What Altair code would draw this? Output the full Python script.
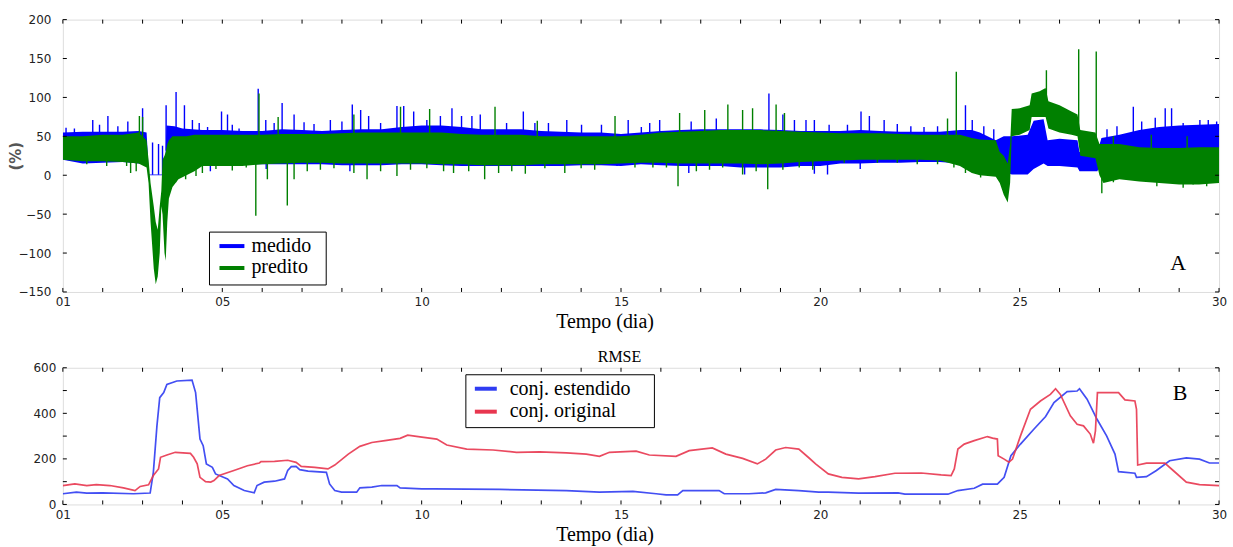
import altair as alt
import numpy as np
import pandas as pd

# ---------------- Panel A: medido x predito (%) ----------------
# envelope of each noisy series: (dia, minimo, maximo)
medido_band = [
    (1.0, 20, 55), (1.5, 15, 56), (2.0, 16, 56), (2.5, 17, 56), (2.9, 15, 57),
    (3.1, 15, 55), (3.16, 0, 1), (3.56, 0, 1), (3.6, 20, 64), (3.8, 20, 63),
    (4.0, 18, 60), (4.5, 15, 58), (5.0, 14, 58), (5.5, 14, 57), (6.0, 14, 57),
    (6.5, 14, 59), (7.0, 14, 58), (7.5, 14, 57), (8.0, 13, 58), (8.5, 13, 59),
    (9.0, 13, 59), (9.5, 14, 62), (10.0, 14, 64), (10.5, 13, 64), (11.0, 12, 62),
    (11.5, 12, 59), (12.0, 12, 59), (12.5, 12, 59), (13.0, 12, 57), (13.5, 12, 56),
    (14.0, 13, 55), (14.5, 13, 55), (15.0, 12, 53), (15.5, 14, 55), (16.0, 13, 57),
    (16.5, 12, 58), (17.0, 12, 59), (17.5, 12, 59), (18.0, 10, 59), (18.5, 10, 59),
    (19.0, 10, 58), (19.5, 12, 57), (20.0, 12, 57), (20.5, 15, 57), (21.0, 15, 58),
    (21.5, 16, 57), (22.0, 16, 56), (22.5, 17, 56), (23.0, 17, 56), (23.5, 15, 58),
    (23.8, 10, 58), (24.0, 12, 55), (24.4, 12, 45), (24.6, 5, 50), (24.8, 1, 50),
    (25.2, 1, 52), (25.35, 8, 70), (25.6, 15, 72), (25.7, 12, 45), (26.0, 12, 47),
    (26.45, 10, 45), (26.5, 5, 30), (26.95, 5, 30), (27.05, 18, 48), (27.5, 20, 52),
    (28.0, 20, 58), (28.5, 22, 62), (29.0, 22, 64), (29.5, 22, 65), (30.0, 22, 66),
]
predito_band = [
    (1.0, 20, 50), (1.5, 18, 50), (2.0, 18, 52), (2.5, 17, 52), (2.9, 15, 55),
    (3.1, 10, 45), (3.15, -10, 20), (3.2, -60, -10), (3.28, -120, -40),
    (3.33, -140, -60), (3.38, -130, -70), (3.43, -100, -40), (3.47, -40, -20),
    (3.5, -50, 20), (3.55, -100, 25), (3.58, -110, 30), (3.62, -60, 40),
    (3.66, -30, 45), (3.75, -15, 50), (3.9, -5, 50), (4.1, 0, 50), (4.3, 5, 52),
    (4.5, 12, 52), (5.0, 12, 52), (5.5, 12, 52), (6.0, 14, 52), (6.5, 15, 53),
    (7.0, 16, 53), (7.5, 16, 53), (8.0, 15, 54), (8.5, 15, 55), (9.0, 15, 55),
    (9.5, 15, 55), (10.0, 15, 55), (10.5, 14, 55), (11.0, 14, 53), (11.5, 13, 52),
    (12.0, 13, 52), (12.5, 13, 52), (13.0, 14, 50), (13.5, 14, 50), (14.0, 14, 50),
    (14.5, 14, 50), (15.0, 15, 50), (15.5, 16, 52), (16.0, 16, 55), (16.5, 15, 56),
    (17.0, 15, 57), (17.5, 15, 58), (18.0, 15, 58), (18.5, 14, 58), (19.0, 15, 57),
    (19.5, 17, 56), (20.0, 18, 55), (20.5, 19, 54), (21.0, 20, 54), (21.5, 20, 54),
    (22.0, 20, 53), (22.5, 20, 52), (23.0, 19, 52), (23.5, 12, 52), (23.8, 3, 48),
    (24.0, 0, 46), (24.4, -2, 45), (24.5, -10, 30), (24.6, -25, 25), (24.7, -35, 15),
    (24.76, -10, 40), (24.8, 50, 85), (25.0, 52, 86), (25.25, 58, 90),
    (25.3, 75, 105), (25.5, 75, 108), (25.65, 75, 112), (25.72, 60, 95),
    (26.0, 55, 90), (26.3, 52, 82), (26.45, 50, 78), (26.52, 25, 58),
    (26.9, 22, 55), (27.0, 0, 40), (27.1, -10, 40), (27.5, -5, 40), (28.0, -8, 36),
    (28.5, -10, 35), (29.0, -12, 35), (29.5, -12, 36), (30.0, -10, 36),
]
# isolated peaks of each series: (dia, valor)
medido_picos = [
    (1.08, 61), (1.29, 60), (1.75, 71), (1.92, 65), (2.13, 76), (2.38, 63), (2.63, 69),
    (3.0, 86), (3.25, 42), (3.4, 40), (3.5, 38), (3.59, 90), (3.84, 107), (4.05, 90),
    (4.25, 71), (4.42, 67), (4.63, 62), (4.98, 82), (5.13, 78), (5.25, 65), (5.42, 60),
    (5.9, 111), (6.09, 71), (6.3, 67), (6.5, 93), (6.8, 78), (7.05, 68), (7.3, 66),
    (7.71, 71), (8.0, 69), (8.26, 91), (8.47, 84), (8.67, 76), (8.97, 67), (9.38, 89),
    (9.55, 89), (9.8, 82), (10.13, 71), (10.47, 76), (10.76, 86), (11.0, 76),
    (11.26, 76), (11.47, 78), (12.13, 67), (12.55, 82), (12.84, 67), (13.18, 67),
    (13.64, 71), (14.01, 65), (14.51, 65), (15.18, 71), (15.51, 62), (15.72, 67),
    (15.97, 71), (16.76, 69), (17.39, 73), (18.71, 105), (19.06, 78), (19.35, 71),
    (19.64, 71), (19.85, 71), (20.22, 65), (20.68, 65), (21.02, 82), (21.23, 76),
    (21.6, 71), (21.93, 66), (22.27, 63), (22.6, 62), (22.94, 63), (23.64, 90),
    (23.81, 71), (24.1, 63), (24.35, 59), (27.19, 59), (27.44, 63), (27.85, 88),
    (28.06, 69), (28.4, 74), (28.65, 86), (28.81, 86), (29.1, 67), (29.52, 71),
    (29.73, 71), (29.94, 69),
    (4.7, 5), (6.1, 8), (8.2, 5), (16.7, 3), (18.1, 1), (19.85, 2), (21.0, 8),
    (14.9, 12), (20.18, 1),
]
predito_picos = [
    (2.92, 76), (3.0, 75), (5.92, 105), (6.4, 75), (8.3, 78), (9.47, 88), (10.2, 85),
    (11.84, 88), (12.9, 70), (14.85, 76), (16.47, 80), (17.1, 84), (17.68, 91),
    (18.05, 84), (18.3, 86), (18.89, 91), (19.1, 80), (23.19, 73), (23.41, 133),
    (25.67, 135), (26.48, 162), (26.92, 159), (27.35, 50), (28.3, 52), (29.2, 50),
    (1.6, 14), (2.1, 12), (2.6, 12), (2.7, 3), (2.84, 5), (3.83, -9), (4.08, -5),
    (4.34, -1), (4.5, 3), (4.84, 8), (5.25, 6), (5.6, 10), (5.84, -52), (6.13, -5),
    (6.63, -39), (6.8, -5), (7.13, 5), (7.46, 7), (7.8, 9), (8.3, 3), (8.63, -5),
    (8.97, 5), (9.38, -1), (9.72, 7), (10.13, 9), (10.55, 5), (10.8, 3), (11.18, 5),
    (11.58, -5), (11.93, 3), (12.26, 5), (12.6, 2), (13.09, 9), (13.59, 3), (14.0, 9),
    (14.34, 7), (15.35, 10), (15.8, 10), (16.14, 10), (16.43, -14), (16.89, 5),
    (17.22, 7), (17.55, 10), (18.05, 1), (18.39, 5), (18.68, -18), (19.06, 7),
    (19.47, 10), (19.81, 7), (20.6, 16), (21.43, 16), (21.93, 16), (22.43, 14),
    (22.94, 14), (23.35, 10), (23.64, 3), (24.02, -3), (24.23, -1), (27.06, -23),
    (27.35, -9), (27.69, -5), (28.1, -7), (28.44, -14), (28.69, -9), (29.1, -16),
    (29.35, -12), (29.69, -14), (29.94, -7),
]

# ---------------- Panel B: RMSE ----------------
rmse_estendido = [
    (1.0, 47), (1.34, 54), (1.6, 50), (2.0, 51), (2.77, 47), (3.19, 50), (3.27, 141),
    (3.36, 345), (3.43, 469), (3.53, 491), (3.61, 527), (3.86, 542), (4.24, 546),
    (4.33, 491), (4.44, 287), (4.52, 258), (4.6, 178), (4.75, 163), (4.83, 134),
    (5.13, 112), (5.29, 83), (5.55, 61), (5.8, 51), (5.87, 83), (6.05, 98),
    (6.31, 102), (6.56, 112), (6.64, 149), (6.73, 166), (6.85, 167), (6.94, 153),
    (7.15, 146), (7.61, 141), (7.69, 90), (7.82, 61), (7.99, 54), (8.37, 54),
    (8.45, 73), (8.75, 76), (9.0, 83), (9.38, 83), (9.46, 73), (10.0, 68), (10.3, 68),
    (11.96, 66), (13.63, 61), (14.46, 54), (15.3, 57), (15.88, 47), (16.13, 42),
    (16.42, 42), (16.55, 61), (17.46, 61), (17.59, 47), (18.21, 47), (18.63, 51),
    (18.88, 66), (19.46, 61), (19.96, 54), (20.2, 54), (20.96, 50), (21.95, 51),
    (22.12, 45), (23.2, 45), (23.45, 61), (23.86, 71), (24.07, 89), (24.44, 89),
    (24.61, 119), (24.78, 214), (25.02, 265), (25.36, 331), (25.65, 386), (25.86, 447),
    (26.19, 495), (26.44, 498), (26.5, 508), (26.69, 462), (26.94, 374), (27.18, 301),
    (27.39, 221), (27.48, 144), (27.89, 137), (27.93, 119), (28.18, 122), (28.43, 149),
    (28.76, 192), (29.18, 204), (29.51, 199), (29.76, 182), (30.0, 182),
]
rmse_original = [
    (1.0, 83), (1.3, 90), (1.6, 83), (1.84, 87), (2.18, 83), (2.52, 73), (2.81, 61),
    (2.94, 79), (3.15, 86), (3.27, 127), (3.4, 156), (3.45, 207), (3.61, 217),
    (3.82, 229), (4.2, 224), (4.28, 207), (4.37, 178), (4.44, 119), (4.58, 100),
    (4.71, 98), (4.79, 105), (4.92, 127), (5.29, 149), (5.63, 170), (5.93, 182),
    (5.97, 188), (6.31, 189), (6.64, 194), (6.85, 185), (6.98, 167), (7.32, 163),
    (7.65, 156), (7.82, 173), (8.16, 221), (8.45, 255), (8.75, 272), (9.08, 280),
    (9.46, 290), (9.65, 304), (9.96, 297), (10.38, 287), (10.63, 261), (11.13, 243),
    (11.79, 239), (12.38, 229), (12.96, 231), (13.63, 226), (14.13, 221), (14.46, 211),
    (14.71, 229), (15.38, 234), (15.71, 217), (16.38, 211), (16.71, 236), (17.29, 248),
    (17.63, 221), (18.05, 202), (18.42, 178), (18.63, 199), (18.88, 239), (19.13, 250),
    (19.46, 243), (19.71, 205), (19.88, 178), (20.2, 134), (20.54, 119), (20.96, 112),
    (21.37, 122), (21.87, 137), (22.53, 138), (23.03, 130), (23.28, 127), (23.36, 156),
    (23.45, 243), (23.61, 265), (23.86, 280), (24.19, 298), (24.32, 291), (24.44, 287),
    (24.46, 214), (24.61, 199), (24.73, 185), (24.82, 199), (25.02, 301), (25.27, 418),
    (25.52, 454), (25.77, 483), (25.9, 508), (26.02, 483), (26.27, 389), (26.44, 352),
    (26.6, 345), (26.77, 309), (26.85, 269), (26.9, 323), (26.95, 491), (27.48, 491),
    (27.64, 459), (27.89, 454), (27.93, 418), (27.96, 173), (28.18, 181), (28.64, 181),
    (28.85, 149), (29.18, 98), (29.51, 87), (30.0, 83),
]

x_labels = [1, 5, 10, 15, 20, 25, 30]
x_ticks = list(range(1, 31))
ya_ticks = [-150, -100, -50, 0, 50, 100, 150, 200]
yb_labels = [0, 200, 400, 600]
yb_ticks = [0, 100, 200, 300, 400, 500, 600]

BLUE, GREEN = "#0000ff", "#008000"
RMSE_BLUE, RMSE_RED = "#2f3cf2", "#e8364f"
SERIF = "Liberation Serif"
SANS = "DejaVu Sans"
W, HA, HB = 1159, 273, 137


def band_frame(band):
    return pd.DataFrame(band, columns=["dia", "lo", "hi"])


def peak_frame(peaks, band):
    b = np.array(band, dtype=float)
    d = pd.DataFrame(peaks, columns=["dia", "v"])
    d["base"] = np.interp(d["dia"], b[:, 0], (b[:, 1] + b[:, 2]) / 2)
    return d


one = pd.DataFrame({"k": [0]})
xs = alt.Scale(domain=[1, 30], nice=False, zero=False)


def x_axis():
    return alt.Axis(values=x_labels, labelExpr="datum.value < 10 ? '0' + datum.value : '' + datum.value",
                    ticks=False, domain=False, grid=False, labelFont=SANS, labelFontSize=12,
                    labelColor="#222", labelPadding=5, labelFlush=False, labelOverlap=False,
                    title="Tempo (dia)", titleFont=SERIF,
                    titleFontSize=20, titleFontWeight="normal", titleColor="#000",
                    titleX=543, titleY=36, titleBaseline="alphabetic", titleAlign="center")


def X(field):
    return alt.X(f"{field}:Q", scale=xs, axis=x_axis())


# ---- panel A ----
ysA = alt.Scale(domain=[-150, 200], nice=False, zero=False)
y_axis_a = alt.Axis(values=ya_ticks, ticks=False, domain=False, grid=False, labelFont=SANS,
                    labelFontSize=12, labelColor="#222", labelPadding=12, labelFlush=False,
                    labelOverlap=False, title="(%)",
                    titleFont=SANS, titleFontSize=15, titleFontWeight="bold", titleColor="#555",
                    titleAngle=270, titleX=-47, titleY=HA / 2, titleAlign="center",
                    titleBaseline="middle")


def YA(field):
    return alt.Y(f"{field}:Q", scale=ysA, axis=y_axis_a)


def band_layer(band, color):
    return alt.Chart(band_frame(band)).mark_area(color=color, clip=True, opacity=1).encode(
        x=X("dia"), y=YA("lo"), y2="hi")


def peak_layer(peaks, band, color):
    return alt.Chart(peak_frame(peaks, band)).mark_rule(color=color, strokeWidth=1.4, clip=True).encode(
        x=X("dia"), y=YA("v"), y2="base")


def frame_ticks(yvals, h, Y):
    xt = pd.DataFrame({"dia": x_ticks})
    yt = pd.DataFrame({"v": yvals})
    bot = alt.Chart(xt).mark_rule(color="#000").encode(x=X("dia"), y=alt.value(h), y2=alt.value(h - 4))
    top = alt.Chart(xt).mark_rule(color="#000").encode(x=X("dia"), y=alt.value(0), y2=alt.value(4))
    left = alt.Chart(yt).mark_rule(color="#000").encode(y=Y("v"), x=alt.value(0), x2=alt.value(4))
    right = alt.Chart(yt).mark_rule(color="#000").encode(y=Y("v"), x=alt.value(W - 4), x2=alt.value(W))
    return [bot, top, left, right]


def legend(box, entries):
    x0, x1, y0, y1 = box
    parts = [alt.Chart(one).mark_rect(fill="#fff", stroke="#000", strokeWidth=1).encode(
        x=alt.value(x0), x2=alt.value(x1), y=alt.value(y0), y2=alt.value(y1))]
    for label, color, lx0, lx1, ly, tx, ty in entries:
        parts.append(alt.Chart(one).mark_rule(color=color, strokeWidth=4).encode(
            x=alt.value(lx0), x2=alt.value(lx1), y=alt.value(ly)))
        parts.append(alt.Chart(pd.DataFrame({"t": [label]})).mark_text(
            font=SERIF, fontSize=20, align="left", baseline="alphabetic", color="#000").encode(
            x=alt.value(tx), y=alt.value(ty), text="t:N"))
    return parts


def tag(text, x, y, size=22):
    return alt.Chart(pd.DataFrame({"t": [text]})).mark_text(
        font=SERIF, fontSize=size, align="center", baseline="alphabetic", color="#000").encode(
        x=alt.value(x), y=alt.value(y), text="t:N")


panel_a = alt.layer(
    band_layer(medido_band, BLUE),
    peak_layer(medido_picos, medido_band, BLUE),
    band_layer(predito_band, GREEN),
    peak_layer(predito_picos, predito_band, GREEN),
    *frame_ticks(ya_ticks, HA, YA),
    *legend((147, 264, 213, 266), [
        ("medido", BLUE, 157, 182, 227, 189, 233),
        ("predito", GREEN, 157, 182, 249, 189, 254),
    ]),
    tag("A", 1118, 251),
).properties(width=W, height=HA)

# ---- panel B ----
ysB = alt.Scale(domain=[0, 600], nice=False, zero=False)
y_axis_b = alt.Axis(values=yb_labels, ticks=False, domain=False, grid=False, labelFont=SANS,
                    labelFontSize=12, labelColor="#222", labelPadding=7, labelFlush=False,
                    labelOverlap=False, title=None)


def YB(field):
    return alt.Y(f"{field}:Q", scale=ysB, axis=y_axis_b)


def rmse_layer(rows, color):
    return alt.Chart(pd.DataFrame(rows, columns=["dia", "rmse"])).mark_line(
        color=color, strokeWidth=1.7, opacity=0.9, clip=True).encode(x=X("dia"), y=YB("rmse"))


panel_b = alt.layer(
    rmse_layer(rmse_estendido, RMSE_BLUE),
    rmse_layer(rmse_original, RMSE_RED),
    *frame_ticks(yb_ticks, HB, YB),
    *legend((404, 593, 7, 60), [
        ("conj. estendido", RMSE_BLUE, 413, 435, 21, 448, 27),
        ("conj. original", RMSE_RED, 413, 435, 44, 448, 49),
    ]),
    tag("B", 1120, 32),
    tag("RMSE", 558, -6, size=16),
).properties(width=W, height=HB)

chart = alt.vconcat(panel_a, panel_b, spacing=15).properties(
    padding={"left": 8, "top": 12, "right": 5, "bottom": 5}
).configure_view(stroke="#000", strokeWidth=1).configure(background="#fff")

chart.save("out.html", embed_options={"renderer": "svg", "actions": False})
